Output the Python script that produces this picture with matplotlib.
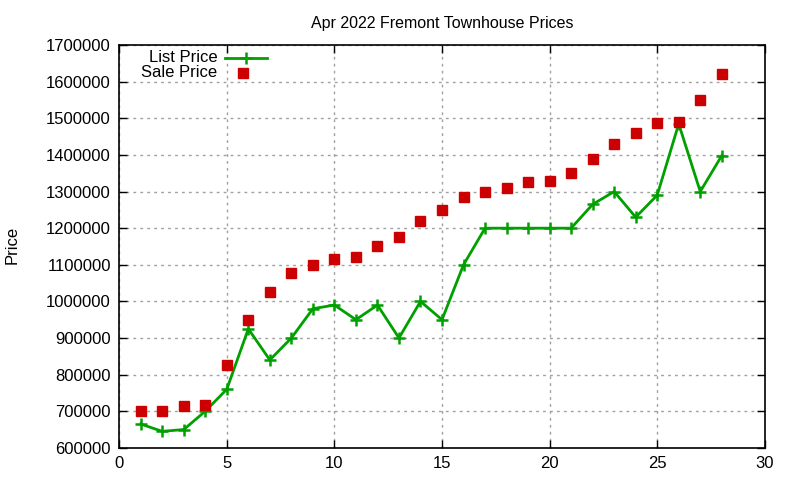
import matplotlib
matplotlib.use("Agg")
import matplotlib.pyplot as plt

plt.rcParams["font.family"] = ["Liberation Sans", "DejaVu Sans"]

# listings, Apr 2022
days = list(range(1, 29))
list_price = [665000, 645000, 650000, 700000, 760000, 925000, 840000, 900000,
              980000, 990000, 950000, 990000, 900000, 1000000, 950000, 1100000,
              1200000, 1200000, 1200000, 1200000, 1200000, 1265000, 1300000,
              1230000, 1290000, 1485000, 1300000, 1398000]
sale_price = [700000, 700000, 715000, 718000, 825000, 950000, 1025000, 1078000,
              1100000, 1115000, 1120000, 1150000, 1175000, 1220000, 1250000,
              1285000, 1300000, 1310000, 1325000, 1330000, 1350000, 1390000,
              1430000, 1460000, 1488000, 1490000, 1550000, 1620000]
y_ticks = list(range(600000, 1700001, 100000))
x_ticks = list(range(0, 31, 5))

GREEN = "#00a000"
RED = "#cc0000"
FS = 12

fig = plt.figure(figsize=(8, 4.8), dpi=100)
ax = fig.add_axes([0.149, 0.067, 0.807, 0.839])

ax.plot(days, list_price, color=GREEN, lw=2, marker="+", ms=9, mew=1.8)
ax.plot(days, sale_price, ls="none", color=RED, marker="s", ms=7)

ax.set_xlim(0, 30)
ax.set_ylim(600000, 1700000)
ax.set_xticks(x_ticks)
ax.set_yticks(y_ticks)
ax.set_yticklabels([str(v) for v in y_ticks])
ax.tick_params(direction="in", top=True, right=True, length=6, width=1,
               labelsize=FS, pad=6)
ax.grid(True, color="#a0a0a0", ls=(0, (2, 3)), lw=1)
for s in ax.spines.values():
    s.set_linewidth(1.2)

ax.set_title("Apr 2022 Fremont Townhouse Prices", fontsize=11.5, pad=12)
fig.text(0.006, 0.49, "Price", rotation=90, fontsize=FS, va="center")

# gnuplot-style key: right-aligned labels, sample to the right
tr = ax.transAxes
ax.text(0.152, 0.969, "List Price", transform=tr, ha="right", va="center",
        fontsize=FS)
ax.plot([0.164, 0.229], [0.969, 0.969], transform=tr, color=GREEN, lw=2,
        clip_on=False)
ax.plot([0.1965], [0.969], transform=tr, color=GREEN, marker="+", ms=9,
        mew=1.8, clip_on=False)
ax.text(0.152, 0.932, "Sale Price", transform=tr, ha="right", va="center",
        fontsize=FS)
ax.plot([0.1925], [0.932], transform=tr, color=RED, marker="s", ms=7,
        clip_on=False)

fig.savefig("out.png", dpi=100)
